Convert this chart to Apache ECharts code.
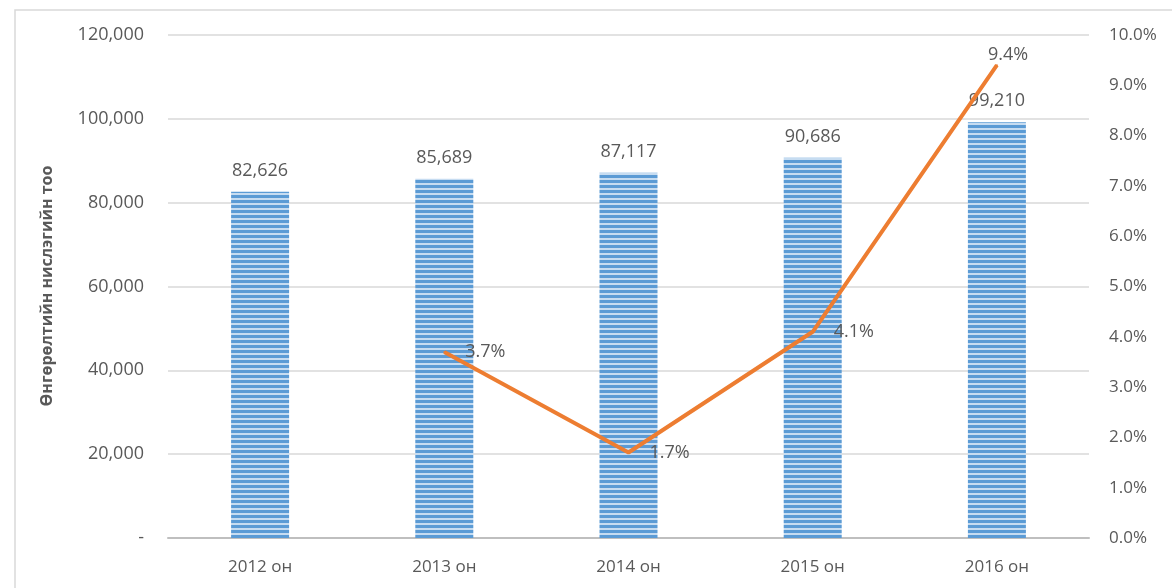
<!DOCTYPE html>
<html>
<head>
<meta charset="utf-8">
<script src="https://cdn.jsdelivr.net/npm/echarts@6/dist/echarts.min.js"></script>
<style>
  html, body { margin: 0; padding: 0; background: #fff; }
  #main { width: 1172px; height: 588px; }
</style>
</head>
<body>
<div id="main"></div>
<script>
var years = ['2012 он', '2013 он', '2014 он', '2015 он', '2016 он'];
var flights = [82626, 85689, 87117, 90686, 99210];
var growth = [null, 3.7, 1.7, 4.1, 9.4];

// horizontal stripe fill like the original bars
function stripes() {
  var c = document.createElement('canvas');
  c.width = 8; c.height = 5;
  var ctx = c.getContext('2d');
  ctx.fillStyle = '#c6dcf1';
  ctx.fillRect(0, 0, 8, 5);
  ctx.fillStyle = '#5b9bd5';
  ctx.fillRect(0, 0, 8, 3);
  return c;
}

var myChart = echarts.init(document.getElementById('main'));
var font = '"Open Sans", sans-serif';

var option = {
  animation: false,
  textStyle: { fontFamily: font },
  graphic: [
    {
      type: 'rect',
      shape: { x: 15, y: 10, width: 1200, height: 700 },
      style: { fill: 'none', stroke: '#d9d9d9', lineWidth: 1.5 },
      silent: true
    },
    {
      type: 'text',
      x: 47, y: 286,
      rotation: Math.PI / 2,
      style: {
        text: 'Өнгөрөлтийн нислэгийн тоо',
        fill: '#595959',
        font: 'bold 16px ' + font,
        align: 'center',
        verticalAlign: 'middle'
      }
    }
  ],
  grid: { left: 168, right: 83, top: 35, bottom: 50 },
  xAxis: {
    type: 'category',
    data: years,
    axisLine: { lineStyle: { color: '#bfbfbf', width: 2 } },
    axisTick: { show: false },
    axisLabel: { color: '#595959', fontSize: 17, margin: 21 }
  },
  yAxis: [
    {
      type: 'value',
      min: 0, max: 120000, interval: 20000,
      axisLine: { show: false },
      axisTick: { show: false },
      splitLine: { lineStyle: { color: '#d9d9d9', width: 1.5 } },
      axisLabel: {
        color: '#595959', fontSize: 18, margin: 24,
        formatter: function (v) { return v === 0 ? '-' : v.toLocaleString('en-US'); }
      }
    },
    {
      type: 'value',
      min: 0, max: 10, interval: 1,
      axisLine: { show: false },
      axisTick: { show: false },
      splitLine: { show: false },
      axisLabel: {
        color: '#595959', fontSize: 17, margin: 20,
        formatter: function (v) { return v.toFixed(1) + '%'; }
      }
    }
  ],
  series: [
    {
      type: 'bar',
      data: flights,
      barWidth: 58,
      itemStyle: { color: { image: stripes(), repeat: 'repeat' } },
      label: {
        show: true, position: 'top', distance: 12,
        color: '#595959', fontSize: 18,
        formatter: function (p) { return p.value.toLocaleString('en-US'); }
      }
    },
    {
      type: 'line',
      yAxisIndex: 1,
      data: growth.map(function (v, i) {
        if (i === growth.length - 1) {
          return { value: v, label: { position: [-8, -18] } };
        }
        return v;
      }),
      symbol: 'circle',
      symbolSize: 2,
      showSymbol: true,
      itemStyle: { color: '#ed7d31' },
      lineStyle: { color: '#ed7d31', width: 4 },
      label: {
        show: true, position: 'right', distance: 20,
        color: '#595959', fontSize: 18,
        formatter: function (p) { return p.value.toFixed(1) + '%'; }
      },
      labelLayout: { hideOverlap: false }
    }
  ]
};

myChart.setOption(option);
</script>
</body>
</html>
